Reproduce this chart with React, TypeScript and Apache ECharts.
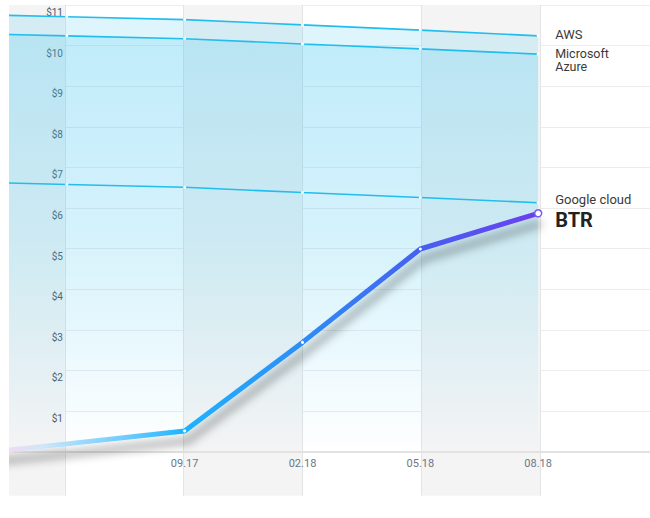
import React, { useEffect, useRef } from 'react';
import * as echarts from 'echarts';

// ---- data ----
const categories = ['', '', '09.17', '02.18', '05.18', '08.18', ''];
const awsValues = [10.78, 10.71, 10.64, 10.51, 10.38, 10.24];
const azureValues = [10.31, 10.24, 10.17, 10.04, 9.92, 9.79];
const googleValues = [6.65, 6.58, 6.51, 6.38, 6.26, 6.13];
const btrValues = [-0.12, 0.19, 0.51, 2.69, 4.99, 5.87];
const seriesNames = ['AWS', 'Microsoft\nAzure', 'Google cloud', 'BTR'];
const yMin = 0;
const yMax = 11;
const yStep = 1;

const CYAN = '#22bdef';

function cyanArea(top: number, mid: number) {
  return {
    color: new echarts.graphic.LinearGradient(0, 0, 0, 1, [
      { offset: 0, color: `rgba(64,196,240,${top})` },
      { offset: 0.5, color: `rgba(64,196,240,${mid})` },
      { offset: 1, color: 'rgba(64,196,240,0)' },
    ]),
  };
}

function providerSeries(name: string, data: number[], area: any, offset: number[], fontSize = 13, lineHeight = 13) {
  return {
    type: 'line',
    name,
    xAxisIndex: 1,
    yAxisIndex: 1,
    data,
    symbol: 'circle',
    symbolSize: 3,
    showSymbol: true,
    itemStyle: { color: '#ffffff', borderWidth: 0 },
    lineStyle: { color: CYAN, width: 1.6 },
    areaStyle: area,
    z: 3,
    endLabel: {
      show: true,
      formatter: () => name,
      distance: 17,
      offset,
      color: '#3a3a3a',
      fontSize,
      lineHeight,
      fontFamily: 'Roboto',
    },
  };
}

export default function App() {
  const ref = useRef<HTMLDivElement>(null);

  useEffect(() => {
    if (!ref.current) return;
    const chart = echarts.init(ref.current, undefined, { renderer: 'svg' });

    const btrData = btrValues.map((v, i) => {
      if (i === btrValues.length - 1) {
        return {
          value: v,
          symbolSize: 7,
          itemStyle: { color: '#ffffff', borderColor: '#7b57f6', borderWidth: 1.5 },
        };
      }
      return { value: v, symbolSize: i < 2 ? 0 : 3, itemStyle: { color: '#ffffff', borderWidth: 0 } };
    });

    const option: any = {
      animation: false,
      textStyle: { fontFamily: 'Roboto' },
      grid: [
        { left: 0, right: 0, top: 5, bottom: 22.3 },
        { left: 0, right: 0, top: 5, bottom: 66.4 },
      ],
      xAxis: [
        {
          type: 'category',
          gridIndex: 0,
          data: categories,
          boundaryGap: false,
          axisLine: { show: false },
          axisTick: { show: false },
          axisLabel: { show: false },
          splitLine: { show: true, interval: 0, lineStyle: { color: '#e4e4e4', width: 1 } },
          splitArea: { show: true, interval: 0, areaStyle: { color: ['#f4f4f4', 'rgba(255,255,255,0)'] } },
        },
        {
          type: 'category',
          gridIndex: 1,
          data: categories,
          boundaryGap: false,
          axisLine: { show: true, lineStyle: { color: '#e2e2e2', width: 2 } },
          axisTick: { show: false },
          axisLabel: { interval: 0, margin: 6, color: '#6b7785', fontSize: 11 },
          splitLine: { show: false },
        },
      ],
      yAxis: [
        { type: 'value', gridIndex: 0, show: false, min: 0, max: 1 },
        {
          type: 'value',
          gridIndex: 1,
          min: yMin,
          max: yMax,
          interval: yStep,
          axisLine: { show: false },
          axisTick: { show: false },
          splitLine: { show: true, lineStyle: { color: '#ececec', width: 1 } },
          axisLabel: {
            inside: true,
            align: 'right',
            verticalAlign: 'top',
            lineHeight: 15,
            margin: 114,
            showMinLabel: false,
            color: '#4a5866',
            fontSize: 10,
            formatter: (v: number) => `$${v}`,
          },
        },
      ],
      series: [
        providerSeries(seriesNames[0], awsValues, cyanArea(0.25, 0.15), [0, -1]),
        providerSeries(seriesNames[1], azureValues, cyanArea(0.28, 0.18), [0, 6], 12.5, 12.5),
        providerSeries(seriesNames[2], googleValues, undefined, [0, -3]),
        {
          type: 'line',
          name: seriesNames[3],
          xAxisIndex: 1,
          yAxisIndex: 1,
          data: btrData,
          symbol: 'circle',
          showSymbol: true,
          clip: false,
          z: 5,
          lineStyle: {
            width: 5,
            color: new echarts.graphic.LinearGradient(0, 0, 1, 0, [
              { offset: 0, color: '#f0e0f6' },
              { offset: 0.106, color: '#ecdcf4' },
              { offset: 0.16, color: '#cfe6f8' },
              { offset: 0.21, color: '#a6dcfb' },
              { offset: 0.3, color: '#6fcbfd' },
              { offset: 0.4, color: '#1eb3ff' },
              { offset: 0.6, color: '#2d8df7' },
              { offset: 0.8, color: '#4760f1' },
              { offset: 1, color: '#6b3ff0' },
            ]),
            shadowColor: 'rgba(0,0,0,0.42)',
            shadowBlur: 10,
            shadowOffsetX: 3,
            shadowOffsetY: 10,
          },
          endLabel: {
            show: true,
            formatter: () => seriesNames[3],
            distance: 17,
            offset: [0, 7],
            color: '#222222',
            fontSize: 20,
            fontWeight: 'bold',
            fontFamily: 'Roboto',
          },
        },
      ],
    };

    chart.setOption(option);
    return () => chart.dispose();
  }, []);

  return (
    <div
      style={{ position: 'absolute', left: 9, top: 0, width: 641, height: 518, overflow: 'hidden' }}
    >
      <div
        ref={ref}
        style={{ position: 'absolute', left: -62.75, top: 0, width: 712.5, height: 518 }}
      />
    </div>
  );
}
